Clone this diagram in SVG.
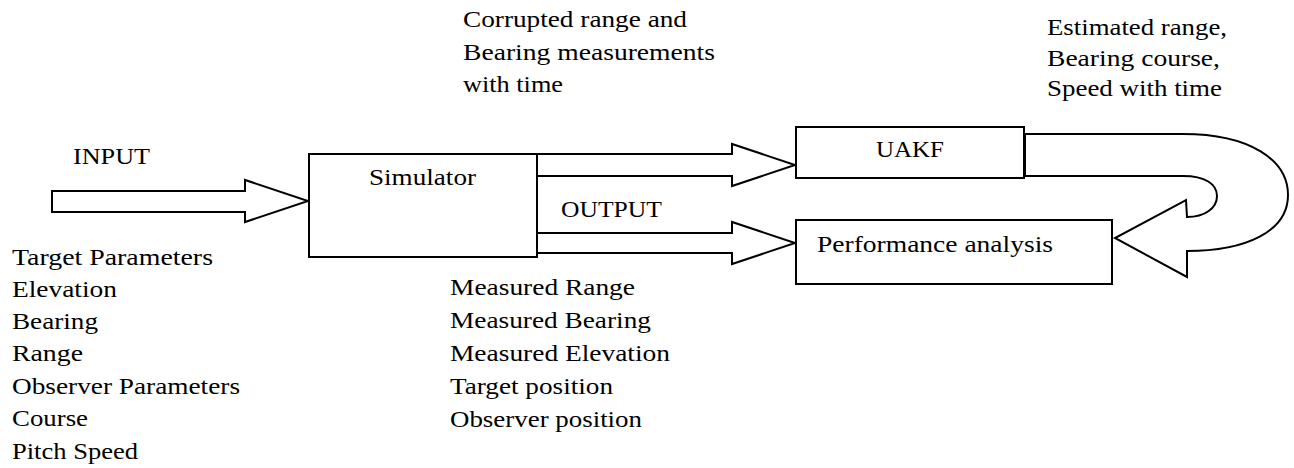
<svg xmlns="http://www.w3.org/2000/svg" width="1294" height="468" viewBox="0 0 1294 468">
  <style>
    .box { fill: #ffffff; stroke: #000000; stroke-width: 2; }
    .arrow { fill: #ffffff; stroke: #000000; stroke-width: 2; stroke-linejoin: miter; }
    .lbl { font-family: 'Liberation Serif', 'Times New Roman', serif; font-size: 24px; fill: #000000; }
  </style>
  <rect x="0" y="0" width="1294" height="468" fill="#ffffff"/>

  <!-- block arrows -->
  <g id="connectors">
    <!-- input into simulator -->
    <path class="arrow" d="M52,191 L245,191 L245,180 L308,201 L245,222 L245,212 L52,212 Z"/>
    <!-- simulator to UAKF -->
    <path class="arrow" d="M537,154 L732,154 L732,144 L795,165 L732,186 L732,176 L537,176 Z"/>
    <!-- simulator to performance analysis -->
    <path class="arrow" d="M537,233 L732,233 L732,222 L795,243 L732,264 L732,253 L537,253 Z"/>
    <!-- curved feedback from UAKF to performance analysis -->
    <path class="arrow" d="M1025,134 L1183,134 C1250,134 1288,160 1288,195 C1288,232 1245,251 1187,251 L1187,277 L1115,238 L1186,200 L1187,217 C1205,217 1217,208 1217,196 C1217,184 1205,176 1183,176 L1025,176 Z"/>
  </g>

  <!-- INPUT label and target/observer parameter list -->
  <g id="input-labels" class="lbl">
    <text x="73" y="164" textLength="77" lengthAdjust="spacingAndGlyphs">INPUT</text>
    <text x="12" y="265" textLength="201" lengthAdjust="spacingAndGlyphs">Target Parameters</text>
    <text x="12" y="297" textLength="105" lengthAdjust="spacingAndGlyphs">Elevation</text>
    <text x="12" y="329" textLength="86" lengthAdjust="spacingAndGlyphs">Bearing</text>
    <text x="12" y="361" textLength="71" lengthAdjust="spacingAndGlyphs">Range</text>
    <text x="12" y="394" textLength="228" lengthAdjust="spacingAndGlyphs">Observer Parameters</text>
    <text x="12" y="426" textLength="76" lengthAdjust="spacingAndGlyphs">Course</text>
    <text x="12" y="459" textLength="126" lengthAdjust="spacingAndGlyphs">Pitch Speed</text>
  </g>

  <!-- Simulator node -->
  <g id="simulator">
    <rect class="box" x="309" y="154" width="228" height="103"/>
    <text class="lbl" x="369" y="185" textLength="107" lengthAdjust="spacingAndGlyphs">Simulator</text>
  </g>

  <!-- measurement labels -->
  <g id="measurement-labels" class="lbl">
    <text x="463" y="27" textLength="224" lengthAdjust="spacingAndGlyphs">Corrupted range and</text>
    <text x="463" y="60" textLength="252" lengthAdjust="spacingAndGlyphs">Bearing measurements</text>
    <text x="463" y="92" textLength="100" lengthAdjust="spacingAndGlyphs">with time</text>
    <text x="561" y="217" textLength="101" lengthAdjust="spacingAndGlyphs">OUTPUT</text>
    <text x="450" y="295" textLength="185" lengthAdjust="spacingAndGlyphs">Measured Range</text>
    <text x="450" y="328" textLength="201" lengthAdjust="spacingAndGlyphs">Measured Bearing</text>
    <text x="450" y="361" textLength="220" lengthAdjust="spacingAndGlyphs">Measured Elevation</text>
    <text x="450" y="394" textLength="163" lengthAdjust="spacingAndGlyphs">Target position</text>
    <text x="450" y="427" textLength="192" lengthAdjust="spacingAndGlyphs">Observer position</text>
  </g>

  <!-- UAKF node -->
  <g id="uakf">
    <rect class="box" x="796" y="127" width="228" height="51"/>
    <text class="lbl" x="876" y="157" textLength="68" lengthAdjust="spacingAndGlyphs">UAKF</text>
  </g>

  <!-- Performance analysis node -->
  <g id="performance-analysis">
    <rect class="box" x="796" y="220" width="316" height="64"/>
    <text class="lbl" x="817" y="252" textLength="236" lengthAdjust="spacingAndGlyphs">Performance analysis</text>
  </g>

  <!-- estimate labels -->
  <g id="estimate-labels" class="lbl">
    <text x="1047" y="35" textLength="180" lengthAdjust="spacingAndGlyphs">Estimated range,</text>
    <text x="1047" y="66" textLength="173" lengthAdjust="spacingAndGlyphs">Bearing course,</text>
    <text x="1047" y="96" textLength="175" lengthAdjust="spacingAndGlyphs">Speed with time</text>
  </g>
</svg>
